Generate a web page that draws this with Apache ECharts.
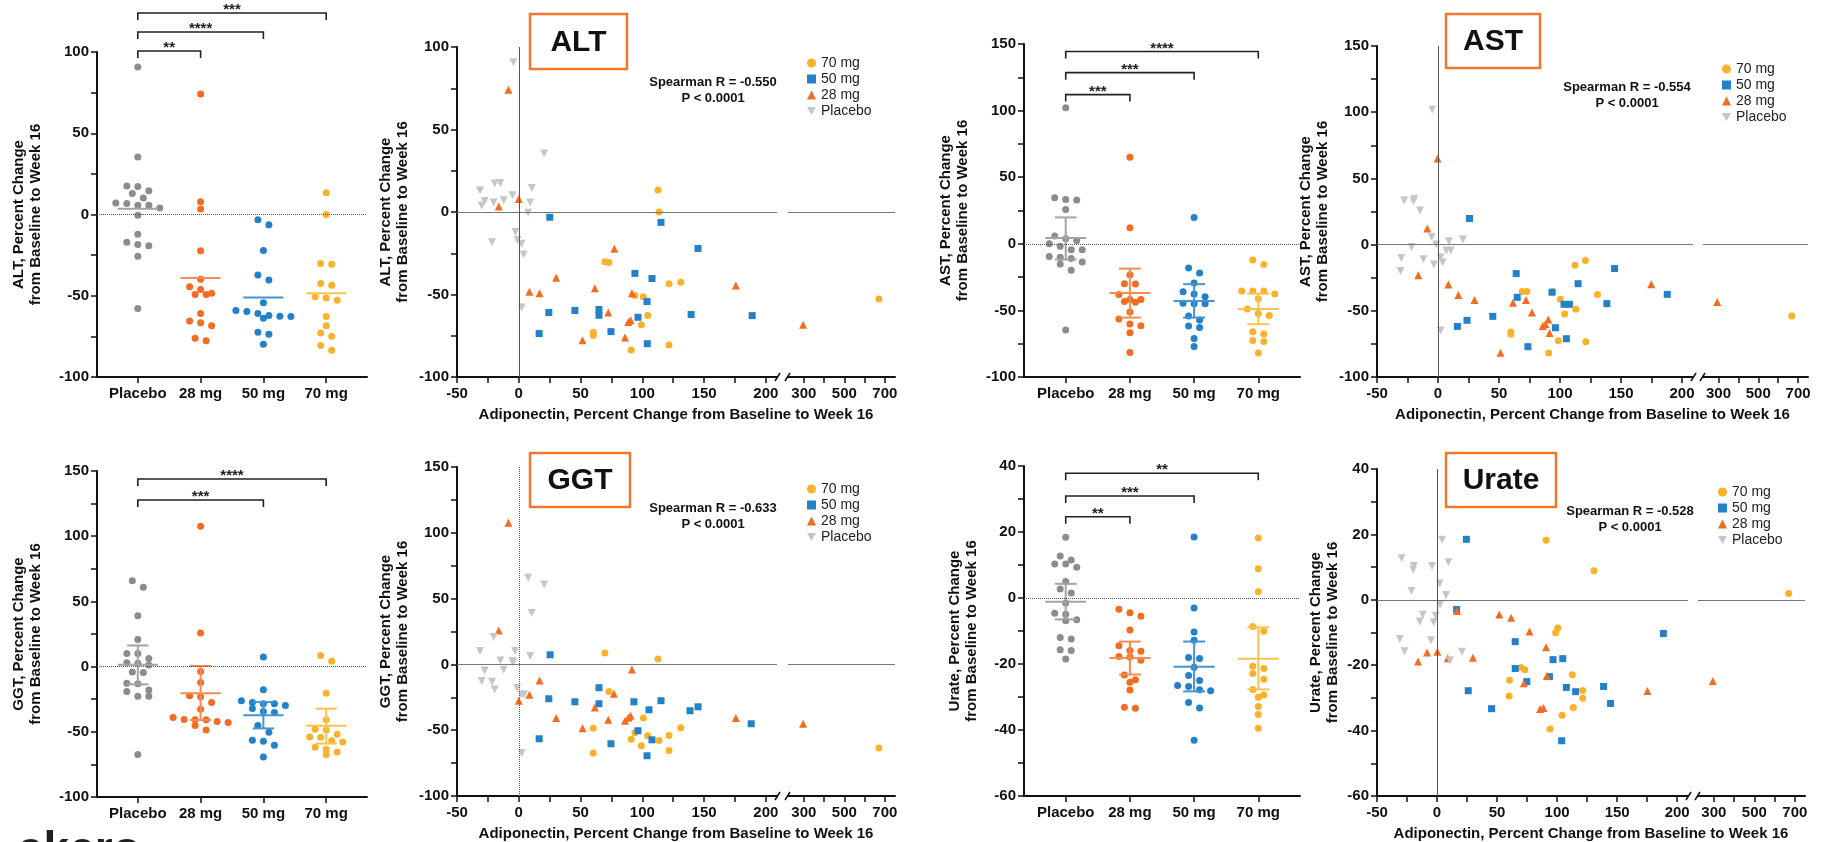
<!DOCTYPE html>
<html>
<head>
<meta charset="utf-8">
<title>Adiponectin vs ALT, AST, GGT, Urate</title>
<script src="https://cdn.jsdelivr.net/npm/echarts@6.0.0/dist/echarts.min.js"></script>
<style>
html, body { margin: 0; padding: 0; background: #fff; }
#main { width: 1824px; height: 842px; }
</style>
</head>
<body>
<div id="main"></div>
<script>
// groups and axis ticks
var groupNames = ['Placebo', '28 mg', '50 mg', '70 mg'];
var legendNames = ['70 mg', '50 mg', '28 mg', 'Placebo'];
var xTicksLeft = [-50, -25, 0, 25, 50, 75, 100, 125, 150, 175, 200];
var xLabelsLeft = [-50, 0, 50, 100, 150, 200];
var xTicksRight = [300, 400, 500, 600, 700];
var xLabelsRight = [300, 500, 700];

// [adiponectin % change, marker % change] per patient
var altPlacebo = [[-4.3,90.7],[20.5,35.4],[-31.4,13],[-30,4],[-27.6,6.7],[-19.5,17.2],[-14.9,17.6],[-20.3,5.7],[-12.2,7.1],[-5.1,10.1],[10.5,14.6],[9.2,5.7],[7.6,-0.4],[-2.7,-12.1],[-1.1,-17],[2.2,-19.2],[-21.6,-18.4],[4,-25.7],[2.4,-57.9]];
var alt28 = [[-8.4,74.1],[0,7.9],[-16.2,3.4],[77.3,-22.3],[30.3,-39.9],[61.6,-46.2],[8.6,-48.4],[16.8,-49.2],[91.6,-49.2],[175.7,-44.5],[72.4,-60.9],[88.6,-66.6],[90.5,-65.6],[86,-76.1],[51.6,-77.7],[296.7,-68.4]];
var alt50 = [[25.1,-3.2],[115.1,-6.3],[145.1,-22.1],[94,-37.2],[107.8,-40.3],[103.8,-54.3],[45.4,-59.7],[24.3,-60.9],[64.9,-59.1],[64.9,-62.6],[96.5,-63.8],[139.5,-62.1],[188.9,-62.8],[74.6,-72.5],[16.5,-73.7],[104,-79.8]];
var alt70 = [[112.7,13.4],[113.5,0],[69.7,-30.2],[73,-30.6],[121.6,-43.5],[131.1,-42.5],[94,-50.6],[100.8,-51.4],[104.3,-62.8],[99.2,-68.4],[60.3,-72.9],[60.3,-74.9],[91,-83.6],[121.6,-80.6],[670.5,-52.8]];

var astPlacebo = [[-4.7,102.1],[-27.7,33.3],[-19.5,34.5],[-20,32.8],[-14.8,25.7],[-5.2,5.8],[-21.6,-1.8],[-1.4,0],[9,2.5],[20.5,3.8],[6.8,-4.5],[10.4,-4.5],[-30.1,-10.1],[-12,-11.1],[2.2,-9.6],[-30.7,-19.9],[-3.3,-15.1],[3.8,-13.6],[2.2,-64.8]];
var ast28 = [[-0.3,65],[-8.8,12.1],[-16.2,-23.2],[8.5,-30.2],[16.7,-38.1],[29.9,-41.8],[61.4,-43.9],[72.1,-41.8],[77,-51.2],[90.4,-56.5],[85.8,-61.5],[88,-60.2],[91.5,-66.8],[51.2,-81.7],[174.8,-30],[293.3,-43.4]];
var ast50 = [[25.8,19.7],[64.1,-21.9],[64.9,-39.8],[93.4,-36],[114.8,-29.5],[144.7,-18.1],[187.9,-37.6],[103.3,-45.1],[107.7,-45.1],[138.4,-44.6],[44.9,-54.2],[23.8,-57.2],[15.9,-61.8],[96.2,-62.8],[105.2,-71.1],[73.7,-77.1]];
var ast70 = [[120.8,-12.1],[112.3,-15.6],[69,-35.5],[72.9,-35.5],[94,-35.5],[100.3,-41.3],[130.7,-37.6],[112.9,-48.9],[103.8,-52.4],[59.7,-66],[59.7,-67.8],[98.6,-72.6],[121.1,-73.4],[90.7,-81.9],[668,-53.9]];

var ggtPlacebo = [[7.6,65.9],[20.5,60.8],[10.5,39],[-20.3,20.8],[-31.4,10.1],[-3,10.1],[-14.9,3],[-5.1,2.5],[-4.6,1.3],[9.2,6.3],[-27.6,-4.6],[-12.2,-4.1],[-30,-12.7],[-21.6,-13.2],[-19.5,-19],[-1.4,-18],[2.2,-22.8],[4.3,-22.8],[2.4,-67.4]];
var ggt28 = [[-8.4,107.7],[-16.2,25.8],[91.6,-3.8],[16.8,-12.2],[8.6,-23.1],[77,-22.3],[0,-27.6],[61.6,-32.7],[30.3,-40.8],[72.4,-42.1],[90.5,-39],[88.6,-40.5],[86,-42.8],[51.6,-48.6],[175.7,-40.8],[296.7,-45.1]];
var ggt50 = [[25.4,7.3],[64.9,-17.7],[24.3,-26.1],[45.4,-28.4],[64.9,-29.9],[93.2,-28.4],[115.1,-27.6],[105.4,-34.5],[138.6,-35.2],[145.1,-32.2],[188.1,-45.1],[96.5,-50.4],[16.5,-56.5],[107.8,-57.3],[74.6,-60.3],[103.8,-69.4]];
var ggt70 = [[69.7,8.6],[112.7,4.1],[73,-20.5],[100.8,-40.8],[60.3,-48.6],[131.1,-48.1],[94,-51.9],[104.3,-54.2],[121.6,-54],[91,-56.8],[113.5,-57.8],[99.2,-61.8],[121.6,-65.4],[60.3,-67.4],[670.5,-63.6]];

var uratePlacebo = [[4.2,18.4],[-29.6,12.7],[-19.4,10.3],[-19.9,9.3],[-4.2,10.3],[9.4,11.5],[2.2,5],[-21.3,2.7],[7.5,1.5],[2.5,-1.5],[-11.9,-4.6],[-1.1,-4.9],[-14.4,-6.6],[-2.8,-6.9],[-31,-12],[-5,-12.4],[-27.1,-15.7],[20.8,-15.9],[10.8,-18.5]];
var urate28 = [[16.6,-3.4],[51.8,-4.5],[61.7,-5.5],[77,-9.7],[90.8,-14.5],[-8.3,-16.1],[0.3,-15.9],[8.9,-17.9],[29.9,-17.7],[-15.8,-18.9],[91.4,-23.3],[72.3,-25.5],[85.8,-33.4],[88.6,-33.1],[175.2,-27.9],[295,-24.8]];
var urate50 = [[24.4,18.5],[16.3,-3],[65.1,-12.8],[188.5,-10.3],[96.6,-18.3],[104.7,-18],[65.1,-21],[74.8,-25],[93.6,-23.5],[26,-27.8],[107.7,-26.8],[115.4,-28.1],[138.7,-26.5],[144.5,-31.7],[45.4,-33.3],[103.8,-43.1]];
var urate70 = [[90.8,18.2],[130.7,8.9],[669.6,1.9],[100.5,-8.6],[98.8,-10.1],[69.8,-20.7],[73.1,-21.4],[112.7,-22.9],[60.4,-24.6],[121.3,-27.7],[121.3,-30.1],[60.1,-29.4],[113.5,-32.9],[104.1,-35.3],[94.1,-39.5]];

// group summary lines (Placebo, 28, 50, 70)
var altMean = [3.5, -39, -51, -48.5];
var astMean = [4.3, -36.9, -42.9, -48.9];
var astUpper = [19.8, -18.6, -30.3, -37.4];
var astLower = [-11.8, -55.4, -55.4, -60.4];
var ggtMean = [1.5, -20.5, -37.4, -45.4];
var ggtUpper = [16.2, 0.5, -27.2, -32.3];
var ggtLower = [-13.6, -41, -47.4, -59];
var urateMean = [-1.1, -18.2, -20.8, -18.4];
var urateUpper = [4.3, -13.2, -13.2, -8.9];
var urateLower = [-6.5, -23.2, -28.3, -27.7];

// significance brackets vs placebo
var altSigTo = [1, 2, 3];
var altSigY = [100.6, 112.3, 124];
var altSigStars = ['**', '****', '***'];
var astSigTo = [1, 2, 3];
var astSigY = [112, 128.5, 144.4];
var astSigStars = ['***', '***', '****'];
var ggtSigTo = [2, 3];
var ggtSigY = [127.8, 143.9];
var ggtSigStars = ['***', '****'];
var urateSigTo = [1, 2, 3];
var urateSigY = [24.6, 30.9, 37.8];
var urateSigStars = ['**', '***', '**'];

var spearmanR = { ALT: '-0.550', AST: '-0.554', GGT: '-0.633', Urate: '-0.528' };

var FONT = '"Liberation Sans", Arial, Helvetica, sans-serif';
var INK = '#111';
var dotColors = ['#8c8c8c', '#f36c21', '#2281c9', '#fbb12a'];
var scatterColors = ['#c6c6c6', '#f36c21', '#2281c9', '#fbb12a'];
var meanColors = ['#a3a3a3', '#f58d52', '#4494d3', '#fcc24f'];
var symbols = ['path://M0,0L10,0L5,9Z', 'triangle', 'rect', 'circle'];
var symbolSizes = [8, 8, 7, 7];

var panels = [
    { name: 'ALT', data: [altPlacebo, alt28, alt50, alt70], mean: altMean, upper: null, lower: null,
      sigTo: altSigTo, sigY: altSigY, sigStars: altSigStars,
      yMin: -100, yMax: 100, yStep: 25, yLabelStep: 50, vDotted: false,
      dot: { l: 97, t: 52, w: 270, h: 325, gap: 53 },
      sc: { l: 457, t: 47, h: 330, wl: 320, rl: 788, rw: 107, gap: 46 },
      box: { x: 530, y: 14, w: 97, h: 55 }, spear: { x: 713, y: 75 }, legend: { x: 807, y: 56 } },
    { name: 'AST', data: [astPlacebo, ast28, ast50, ast70], mean: astMean, upper: astUpper, lower: astLower,
      sigTo: astSigTo, sigY: astSigY, sigStars: astSigStars,
      yMin: -100, yMax: 150, yStep: 25, yLabelStep: 50, vDotted: false,
      dot: { l: 1024, t: 44, w: 276, h: 333, gap: 53 },
      sc: { l: 1377, t: 46, h: 331, wl: 316, rl: 1703, rw: 105, gap: 46 },
      box: { x: 1446, y: 14, w: 94, h: 54 }, spear: { x: 1627, y: 80 }, legend: { x: 1722, y: 62 } },
    { name: 'GGT', data: [ggtPlacebo, ggt28, ggt50, ggt70], mean: ggtMean, upper: ggtUpper, lower: ggtLower,
      sigTo: ggtSigTo, sigY: ggtSigY, sigStars: ggtSigStars,
      yMin: -100, yMax: 150, yStep: 25, yLabelStep: 50, vDotted: true,
      dot: { l: 97, t: 471, w: 270, h: 326, gap: 53 },
      sc: { l: 457, t: 467, h: 329, wl: 320, rl: 788, rw: 107, gap: 46 },
      box: { x: 530, y: 453, w: 100, h: 54 }, spear: { x: 713, y: 501 }, legend: { x: 807, y: 482 } },
    { name: 'Urate', data: [uratePlacebo, urate28, urate50, urate70], mean: urateMean, upper: urateUpper, lower: urateLower,
      sigTo: urateSigTo, sigY: urateSigY, sigStars: urateSigStars,
      yMin: -60, yMax: 40, yStep: 10, yLabelStep: 20, vDotted: false,
      dot: { l: 1024, t: 466, w: 276, h: 330, gap: 44 },
      sc: { l: 1377, t: 469, h: 327, wl: 311, rl: 1698, rw: 107, gap: 36 },
      box: { x: 1446, y: 453, w: 110, h: 54 }, spear: { x: 1630, y: 504 }, legend: { x: 1718, y: 485 } }
];

var grids = [], xAxes = [], yAxes = [], series = [], legends = [], graphics = [];

var boldLabel = { fontSize: 15, fontWeight: 'bold', color: INK, fontFamily: FONT };

// beeswarm: points close in value share a row and are spread side by side
function swarm(values, pxPerUnit, stepCat, binPx) {
    var order = values.map(function (v, i) { return i; }).sort(function (a, b) { return values[b] - values[a]; });
    var offs = [], bin = [];
    function flush() {
        bin.forEach(function (k, j) { offs[k] = (j - (bin.length - 1) / 2) * stepCat; });
        bin = [];
    }
    order.forEach(function (k) {
        if (bin.length && (values[bin[0]] - values[k]) * pxPerUnit > binPx) flush();
        bin.push(k);
    });
    flush();
    return offs;
}

function yAxisOpt(gi, p, gap) {
    return {
        gridIndex: gi, type: 'value', min: p.yMin, max: p.yMax, interval: p.yStep,
        axisLine: { show: true, onZero: false, lineStyle: { color: INK, width: 2 } },
        axisTick: { show: true, length: 6, lineStyle: { color: INK, width: 1.5 } },
        axisLabel: Object.assign({ margin: 8, formatter: function (v) { return v % p.yLabelStep === 0 ? String(v) : ''; } }, boldLabel),
        splitLine: { show: false },
        name: p.name + ', Percent Change\nfrom Baseline to Week 16',
        nameLocation: 'middle', nameRotate: 90, nameGap: gap,
        nameTextStyle: { fontSize: 15, fontWeight: 'bold', color: INK, fontFamily: FONT, lineHeight: 17 }
    };
}

function addDotPlot(p) {
    var gi = grids.length;
    grids.push({ left: p.dot.l, top: p.dot.t, width: p.dot.w, height: p.dot.h });
    xAxes.push({
        gridIndex: gi, type: 'value', min: -0.65, max: 3.65,
        axisLine: { show: true, onZero: false, lineStyle: { color: INK, width: 2 } },
        axisTick: { show: true, length: 6, customValues: [0, 1, 2, 3], lineStyle: { color: INK, width: 1.5 } },
        axisLabel: Object.assign({ margin: 9, customValues: [0, 1, 2, 3], formatter: function (v) { return groupNames[Math.round(v)]; } }, boldLabel),
        splitLine: { show: false }
    });
    yAxes.push(yAxisOpt(gi, p, p.dot.gap));

    var pxPerUnit = p.dot.h / (p.yMax - p.yMin);
    var stepCat = 11 / (p.dot.w / 4.3);

    p.data.forEach(function (grp, k) {
        var vals = grp.map(function (d) { return d[1]; });
        var offs = swarm(vals, pxPerUnit, stepCat, 7);
        var s = {
            name: p.name + ' dots ' + groupNames[k], type: 'scatter', xAxisIndex: gi, yAxisIndex: gi,
            symbol: 'circle', symbolSize: 7, silent: true, z: 3,
            itemStyle: { color: dotColors[k], opacity: 1 },
            data: vals.map(function (v, i) { return [k + offs[i], v]; })
        };
        if (k === 0) {
            s.markLine = { silent: true, symbol: ['none', 'none'], label: { show: false },
                lineStyle: { color: '#555', width: 1, type: 'dotted' }, data: [{ yAxis: 0 }] };
        }
        series.push(s);
    });

    // mean line with error bars
    series.push({
        type: 'custom', xAxisIndex: gi, yAxisIndex: gi, silent: true, z: 4,
        encode: { x: 0, y: [1, 2, 3] },
        data: p.mean.map(function (m, k) {
            return [k, m, p.lower ? p.lower[k] : m, p.upper ? p.upper[k] : m];
        }),
        renderItem: function (params, api) {
            var k = api.value(0), m = api.value(1), lo = api.value(2), hi = api.value(3);
            var st = { stroke: meanColors[params.dataIndex], lineWidth: 2 };
            function seg(x1, y1, x2, y2) {
                var a = api.coord([x1, y1]), b = api.coord([x2, y2]);
                return { type: 'line', shape: { x1: a[0], y1: a[1], x2: b[0], y2: b[1] }, style: st };
            }
            var ch = [seg(k - 0.32, m, k + 0.32, m)];
            if (p.upper) {
                ch.push(seg(k, lo, k, hi), seg(k - 0.17, lo, k + 0.17, lo), seg(k - 0.17, hi, k + 0.17, hi));
            }
            return { type: 'group', children: ch };
        }
    });

    // significance brackets
    series.push({
        type: 'custom', xAxisIndex: gi, yAxisIndex: gi, silent: true, z: 5, clip: false,
        encode: { x: [0, 1], y: 2 },
        data: p.sigTo.map(function (t, i) { return [0, t, p.sigY[i]]; }),
        renderItem: function (params, api) {
            var a = api.coord([api.value(0), api.value(2)]);
            var b = api.coord([api.value(1), api.value(2)]);
            var drop = 7;
            return { type: 'group', children: [
                { type: 'polyline', shape: { points: [[a[0], a[1] + drop], [a[0], a[1]], [b[0], b[1]], [b[0], b[1] + drop]] },
                  style: { stroke: '#222', lineWidth: 1.6, fill: null } },
                { type: 'text', x: (a[0] + b[0]) / 2, y: a[1] - 3,
                  style: { text: p.sigStars[params.dataIndex], fontSize: 15, fontWeight: 'bold', fill: '#222', fontFamily: FONT,
                           align: 'center', verticalAlign: 'middle', textAlign: 'center', textVerticalAlign: 'middle' } }
            ] };
        }
    });
}

function addScatter(p) {
    var gl = grids.length;
    grids.push({ left: p.sc.l, top: p.sc.t, width: p.sc.wl, height: p.sc.h });
    var gr = grids.length;
    grids.push({ left: p.sc.rl, top: p.sc.t, width: p.sc.rw, height: p.sc.h });

    var xBase = {
        type: 'value',
        axisLine: { show: true, onZero: false, lineStyle: { color: INK, width: 2 } },
        splitLine: { show: false }
    };
    xAxes.push(Object.assign({}, xBase, {
        gridIndex: gl, min: -50, max: 209,
        axisTick: { show: true, length: 6, customValues: xTicksLeft, lineStyle: { color: INK, width: 1.5 } },
        axisLabel: Object.assign({ margin: 9, customValues: xLabelsLeft }, boldLabel)
    }));
    xAxes.push(Object.assign({}, xBase, {
        gridIndex: gr, min: 222, max: 750,
        axisTick: { show: true, length: 6, customValues: xTicksRight, lineStyle: { color: INK, width: 1.5 } },
        axisLabel: Object.assign({ margin: 9, customValues: xLabelsRight }, boldLabel)
    }));
    yAxes.push(yAxisOpt(gl, p, p.sc.gap));
    yAxes.push({ gridIndex: gr, type: 'value', min: p.yMin, max: p.yMax, show: false });

    var zeroLine = { color: '#777', width: 1, type: 'solid' };
    [3, 2, 1, 0].forEach(function (k) {
        var grp = p.data[k];
        var base = {
            name: groupNames[k], type: 'scatter', symbol: symbols[k], symbolSize: symbolSizes[k],
            silent: true, z: 3 + (3 - k) * 0.1, itemStyle: { color: scatterColors[k], opacity: 1 }
        };
        var left = Object.assign({}, base, { xAxisIndex: gl, yAxisIndex: gl,
            data: grp.filter(function (d) { return d[0] <= 209; }) });
        var right = Object.assign({}, base, { xAxisIndex: gr, yAxisIndex: gr,
            data: grp.filter(function (d) { return d[0] > 209; }) });
        if (k === 3) {
            left.markLine = { silent: true, symbol: ['none', 'none'], label: { show: false }, lineStyle: zeroLine,
                data: [{ yAxis: 0 }, { xAxis: 0, lineStyle: { color: '#555', width: 1, type: p.vDotted ? 'dotted' : 'solid' } }] };
        }
        if (k === 1) {
            right.markLine = { silent: true, symbol: ['none', 'none'], label: { show: false }, lineStyle: zeroLine,
                data: [{ yAxis: 0 }] };
        }
        series.push(left, right);
    });

    legends.push({
        orient: 'vertical', left: p.legend.x, top: p.legend.y, padding: 0, itemGap: 2,
        itemWidth: 9, itemHeight: 9, selectedMode: false, data: legendNames,
        textStyle: { fontSize: 14, color: '#222', fontFamily: FONT }
    });

    // axis break marks
    var ay = p.sc.t + p.sc.h, le = p.sc.l + p.sc.wl, rs = p.sc.rl;
    graphics.push({ type: 'line', shape: { x1: le - 2, y1: ay + 4, x2: le + 3, y2: ay - 4 }, style: { stroke: INK, lineWidth: 1.5 } });
    graphics.push({ type: 'line', shape: { x1: rs - 3, y1: ay + 4, x2: rs + 2, y2: ay - 4 }, style: { stroke: INK, lineWidth: 1.5 } });

    // x axis title spanning both segments
    graphics.push({ type: 'text', x: (p.sc.l + p.sc.rl + p.sc.rw) / 2, y: ay + 38,
        style: { text: 'Adiponectin, Percent Change from Baseline to Week 16', fontSize: 15, fontWeight: 'bold', fill: INK, fontFamily: FONT,
                 align: 'center', verticalAlign: 'middle', textAlign: 'center', textVerticalAlign: 'middle' } });

    // boxed panel label
    graphics.push({ type: 'rect', shape: { x: p.box.x, y: p.box.y, width: p.box.w, height: p.box.h },
        style: { fill: '#fff', stroke: '#f0782d', lineWidth: 2.5 } });
    graphics.push({ type: 'text', x: p.box.x + p.box.w / 2, y: p.box.y + p.box.h / 2 + 1,
        style: { text: p.name, fontSize: 30, fontWeight: 'bold', fill: INK, fontFamily: FONT,
                 align: 'center', verticalAlign: 'middle', textAlign: 'center', textVerticalAlign: 'middle' } });

    // correlation note
    graphics.push({ type: 'text', x: p.spear.x, y: p.spear.y,
        style: { text: 'Spearman R = ' + spearmanR[p.name] + '\nP < 0.0001', fontSize: 13, fontWeight: 'bold', fill: INK,
                 fontFamily: FONT, lineHeight: 15.5, align: 'center', verticalAlign: 'top', textAlign: 'center', textVerticalAlign: 'top' } });
}

panels.forEach(function (p) {
    addDotPlot(p);
    addScatter(p);
});

// logo, cut by the bottom edge
graphics.push({ type: 'text', x: 18, y: 828,
    style: { text: 'akero', fontSize: 46, fontWeight: 'bold', fill: '#231f20', fontFamily: FONT, verticalAlign: 'top', textVerticalAlign: 'top' } });

var myChart = echarts.init(document.getElementById('main'), null, { renderer: 'canvas' });

var option = {
    backgroundColor: '#fff',
    animation: false,
    grid: grids,
    xAxis: xAxes,
    yAxis: yAxes,
    legend: legends,
    series: series,
    graphic: { elements: graphics }
};

myChart.setOption(option);
</script>
</body>
</html>
